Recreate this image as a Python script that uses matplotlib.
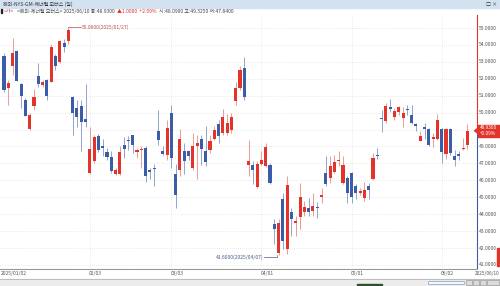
import numpy as np
import matplotlib
matplotlib.use('Agg')
import matplotlib.pyplot as plt
from matplotlib.patches import Rectangle, Polygon
from matplotlib.lines import Line2D

plt.rcParams['font.family'] = ['Noto Sans CJK KR', 'DejaVu Sans']

# daily OHLC, 2025/01/02 .. 2025/06/10
opens = [53.32, 51.48, 52.73, 53.67, 51.72, 50.74, 49.02, 50.39, 52.15, 51.62,
         51.91, 51.82, 53.32, 52.99, 54.14, 54.22, 50.94, 50.25, 50.39, 49.63,
         46.45, 47.13, 48.63, 48.00, 47.66, 47.38, 46.35, 46.35, 48.10, 48.38,
         48.67, 47.70, 47.77, 47.91, 46.64, 46.70, 48.89, 47.75, 47.52, 49.96,
         46.39, 46.64, 47.71, 47.71, 46.74, 48.00, 48.46, 47.71, 47.77, 48.46,
         49.32, 48.79, 48.79, 48.95, 50.70, 51.43, 52.64, 46.93, 46.89, 45.62,
         46.97, 46.84, 46.89, 43.40, 41.70, 44.88, 41.95, 44.14, 43.48, 43.81,
         44.14, 44.34, 44.20, 44.45, 45.02, 46.45, 46.15, 46.48, 47.13, 45.86,
         46.15, 46.45, 45.66, 45.23, 44.94, 45.66, 46.05, 47.52, 49.67, 49.53,
         50.31, 49.73, 50.06, 49.67, 50.23, 49.86, 49.33, 48.30, 49.14, 49.04,
         48.44, 48.44, 49.04, 47.56, 49.04, 47.46, 47.58, 47.85, 48.09]
highs = [53.50, 51.90, 54.40, 53.70, 51.75, 50.88, 49.96, 51.37, 52.93, 51.95,
         52.00, 54.06, 53.48, 54.30, 54.36, 55.06, 51.00, 50.74, 50.74, 51.68,
         49.18, 48.69, 48.73, 48.45, 47.91, 47.71, 46.74, 48.00, 48.59, 48.60,
         48.70, 47.91, 48.00, 48.05, 46.74, 46.99, 50.16, 48.00, 49.57, 50.45,
         46.99, 49.02, 48.20, 47.81, 48.79, 48.69, 48.69, 49.22, 48.69, 49.22,
         49.57, 50.20, 49.92, 49.96, 51.82, 52.73, 53.28, 48.40, 47.13, 47.13,
         47.71, 48.20, 47.03, 43.73, 43.71, 45.27, 46.25, 44.39, 43.87, 45.82,
         44.79, 44.98, 45.23, 44.73, 45.57, 47.42, 47.42, 47.52, 47.71, 47.42,
         46.25, 46.48, 45.76, 45.57, 45.90, 45.86, 47.62, 47.91, 50.16, 50.59,
         50.78, 50.25, 50.39, 50.31, 50.45, 50.45, 49.41, 48.89, 49.41, 49.08,
         48.79, 49.92, 49.08, 49.08, 49.08, 47.77, 47.71, 48.50, 49.325]
lows = [51.20, 50.45, 52.20, 51.85, 50.30, 49.80, 49.00, 50.16, 51.52, 51.50,
        50.74, 51.80, 52.50, 52.93, 53.57, 54.06, 48.69, 49.14, 47.71, 49.18,
        46.40, 47.03, 47.70, 47.45, 47.23, 46.45, 46.29, 46.29, 47.32, 47.80,
        47.60, 47.32, 46.74, 45.90, 46.05, 45.66, 48.10, 47.52, 47.23, 46.74,
        44.39, 46.25, 46.35, 47.23, 46.64, 46.05, 46.93, 46.84, 47.62, 48.40,
        48.20, 48.69, 48.69, 48.79, 50.45, 51.33, 50.74, 46.25, 45.76, 45.57,
        46.93, 46.80, 45.80, 42.22, 41.60, 41.95, 41.66, 42.73, 42.73, 43.12,
        43.91, 43.87, 43.91, 43.75, 44.65, 45.66, 45.82, 46.41, 46.84, 45.76,
        44.69, 44.69, 44.88, 45.16, 44.79, 44.92, 46.00, 47.27, 48.83, 49.41,
        50.06, 49.57, 49.86, 49.14, 49.86, 49.33, 48.89, 48.30, 48.44, 48.05,
        47.97, 48.40, 47.03, 47.27, 47.52, 46.84, 47.19, 47.77, 47.84]
closes = [51.33, 51.76, 53.52, 51.88, 50.98, 49.82, 49.86, 50.90, 51.68, 51.82,
          50.98, 53.87, 52.73, 54.22, 53.90, 54.88, 50.00, 49.77, 49.47, 49.47,
          47.85, 48.55, 47.77, 47.93, 47.38, 46.54, 46.64, 47.68, 47.85, 48.33,
          48.10, 47.77, 47.85, 46.25, 46.52, 46.68, 48.40, 47.58, 49.12, 47.32,
          45.16, 48.44, 47.13, 47.42, 48.05, 48.20, 47.85, 47.07, 48.30, 48.95,
          48.63, 49.73, 49.41, 49.77, 51.43, 52.54, 50.94, 47.13, 46.64, 46.99,
          47.23, 47.95, 45.86, 43.14, 43.48, 42.44, 45.72, 43.71, 43.61, 45.04,
          44.45, 44.14, 44.49, 44.36, 45.12, 45.76, 46.84, 47.07, 47.23, 46.89,
          45.23, 45.04, 45.27, 45.37, 45.41, 45.43, 47.32, 47.46, 49.61, 50.39,
          50.23, 50.12, 50.35, 50.00, 50.16, 49.37, 49.22, 48.63, 49.06, 48.10,
          48.55, 49.57, 47.66, 49.04, 47.62, 47.23, 47.42, 47.93, 48.93]

month_idx = [20, 39, 60, 81, 102]
month_labels = ['02/03', '03/03', '04/01', '05/01', '06/02']
first_label = '2025/01/02'
last_label = '2025/06/10'
price_ticks = list(range(41, 56))

RED = '#e3342b'
BLUE = '#3b5ca6'
W, H = 500, 286
FS = 3.6

fig = plt.figure(figsize=(5, 2.86), dpi=100)
fig.patch.set_facecolor('white')

def fx(px):
    return px / W

def fy(py):
    return 1 - py / H

ax_left, ax_right, ax_top, ax_bot = 0, 476, 15, 268
ax = fig.add_axes([fx(ax_left), fy(ax_bot), fx(ax_right - ax_left), (ax_bot - ax_top) / H])

n = len(closes)
x = np.arange(n)
o = np.array(opens); c = np.array(closes)
hi = np.array(highs); lo = np.array(lows)
up = c >= o
cols = np.where(up, RED, BLUE)
wick_cols = np.where(up, '#e88a84', '#8096c4')

ax.vlines(x, lo, hi, colors=wick_cols, linewidth=0.6, zorder=2)
body_h = np.maximum(np.abs(c - o), 0.06)
ax.bar(x, body_h, bottom=np.minimum(o, c), width=0.72, color=cols, linewidth=0, zorder=3)

ax.set_xlim(-0.93, 110.0)
ax.set_ylim(40.82, 55.77)

for p in price_ticks:
    ax.axhline(p, color='#d8d8d8', linewidth=0.5, linestyle=(0, (1, 2)), zorder=0)
for m in month_idx:
    ax.axvline(m, color='#d8d8d8', linewidth=0.5, linestyle=(0, (1, 2)), zorder=0)

ax.set_xticks([])
ax.set_yticks([])
for s in ax.spines.values():
    s.set_visible(False)

# max / min annotations
imax = int(np.argmax(hi))
imin = int(np.argmin(lo))
ax.plot([imax, imax + 3], [hi[imax], hi[imax]], color='#c0504d', linewidth=0.5)
ax.text(imax + 3.1, hi[imax], f'{hi[imax]:.4f}(2025/01/27)', fontsize=FS,
        color='#c0504d', va='center', ha='left')
ax.plot([imin - 0.3, imin - 0.3, imin - 3.5], [lo[imin], lo[imin] - 0.12, lo[imin] - 0.12],
        color='#4a5a8a', linewidth=0.5, clip_on=False)
ax.text(imin - 3.6, lo[imin] - 0.12, f'{lo[imin]:.4f}(2025/04/07)', fontsize=FS,
        color='#4a5a8a', va='center', ha='right')

# right price axis
def py_of(p):
    return ax_top + (55.77 - p) / (55.77 - 40.82) * (ax_bot - ax_top)

last = c[-1]
tag_y = py_of(last)
fig.add_artist(Line2D([fx(476.5), fx(476.5)], [fy(ax_top), fy(tag_y)], color=RED, linewidth=0.8))
fig.add_artist(Line2D([fx(476.5), fx(476.5)], [fy(tag_y), fy(ax_bot)], color=BLUE, linewidth=0.8))
for p in price_ticks:
    if abs(p - last) < 0.4:
        continue
    fig.text(fx(479), fy(py_of(p)), f'{p:.4f}', fontsize=FS, color='#555555', va='center', ha='left')

fig.add_artist(Rectangle((fx(478), fy(tag_y + 6)), fx(22), 12 / H, color=RED, zorder=5))
fig.add_artist(Polygon([[fx(474.5), fy(tag_y)], [fx(478.5), fy(tag_y - 3)], [fx(478.5), fy(tag_y + 3)]],
                       closed=True, color=RED, zorder=5))
fig.text(fx(479.5), fy(tag_y - 2.8), f'{last:.4f}', fontsize=3.4, color='white', va='center', zorder=6)
fig.text(fx(479.5), fy(tag_y + 2.8), '+2.09%', fontsize=3.4, color='white', va='center', zorder=6)
fig.add_artist(Rectangle((fx(497), fy(266)), fx(3), 18 / H, color=RED))

# date axis
fig.add_artist(Line2D([0, fx(476.5)], [fy(268.5), fy(268.5)], color='#9a9a9a', linewidth=0.8))
x_px = lambda i: ax_left + (i + 0.93) / 110.93 * (ax_right - ax_left)
fig.text(fx(1), fy(273), first_label, fontsize=FS, color='#555555', va='center', ha='left')
for m, lab in zip(month_idx, month_labels):
    fig.text(fx(x_px(m) - 1), fy(273), lab, fontsize=FS, color='#555555', va='center', ha='left')
fig.text(fx(499.5), fy(273), last_label, fontsize=3.4, color='#555555', va='center', ha='right')

# scroll bar strip
fig.add_artist(Rectangle((0, 0), 1, 7 / H, color='#ececec'))
fig.add_artist(Line2D([0, 1], [fy(279), fy(279)], color='#b5b5b5', linewidth=0.6))
fig.add_artist(Rectangle((fx(428), fy(284)), fx(36), 3 / H, facecolor='#f5f5f5', edgecolor='#8aa0bf', linewidth=0.5))
for bx in (466, 473, 480):
    fig.add_artist(Rectangle((fx(bx), fy(285)), fx(6), 5 / H, facecolor='#dcdcdc', edgecolor='#888888', linewidth=0.4))
fig.add_artist(Rectangle((fx(487), fy(285)), fx(12), 5 / H, facecolor='#dcdcdc', edgecolor='#888888', linewidth=0.4))
fig.add_artist(Rectangle((fx(357), 0), fx(25), 2 / H, color='#2f4f2f'))

# title bar and header
fig.add_artist(Rectangle((0, fy(8)), 1, 8 / H, color='#d3e2f1'))
fig.text(fx(3), fy(4.5), '해외-NYS-GM-제너럴 모터스 (일)', fontsize=FS, color='#333333', va='center')
fig.text(fx(486), fy(4.5), '□ ×', fontsize=FS, color='#333333', va='center')
fig.add_artist(Rectangle((fx(1), fy(13)), fx(1.2), 4 / H, color='#222222'))

header = [('<가>', '#c0504d'),
          ('<해외-제너럴 모터스> 2025/06/10 종:48.9300', '#444444'),
          ('▲1.0000  +2.09%', RED),
          ('시:48.0900 고:49.3250 저:47.8400', '#444444')]
renderer = fig.canvas.get_renderer()
cur = 4.0
for s, col in header:
    t = fig.text(fx(cur), fy(11.5), s, fontsize=FS, color=col, va='center')
    bb = t.get_window_extent(renderer=renderer)
    cur = bb.x1 + 2.5

fig.savefig('out.png', dpi=100)
